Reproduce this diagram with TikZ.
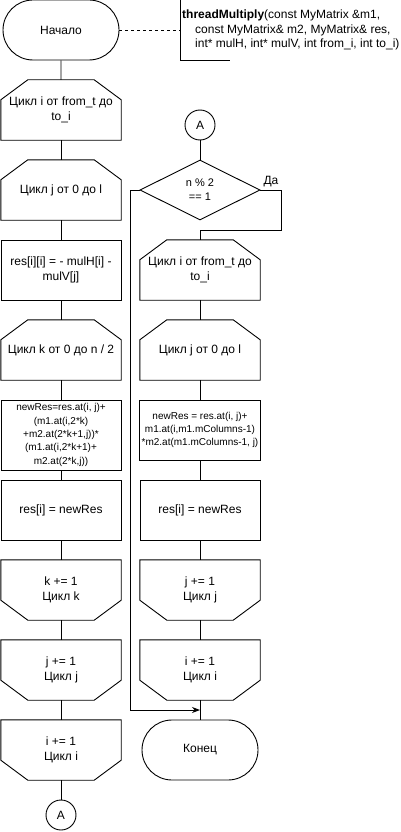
\documentclass[tikz,border=0pt]{standalone}
\usepackage{fontspec}
\setmainfont{Liberation Sans}
\usetikzlibrary{shapes.geometric,shapes.misc,arrows.meta}
\newcommand{\nsz}{\fontsize{12}{14.4}\selectfont}
\newcommand{\ssz}{\fontsize{10}{13.3}\selectfont}
\newcommand{\dsz}{\fontsize{11}{14}\selectfont}
\tikzset{
  x=1pt, y=-1pt,
  shapeline/.style={draw=black, line width=0.9pt, line join=miter},
  base/.style={rectangle, minimum width=120pt, minimum height=60pt, inner sep=2pt, align=center, font=\nsz},
  box/.style={base, shapeline},
  smallbox/.style={base, shapeline, font=\ssz},
  loopbegin/.style={base},
  loopend/.style={base},
  term/.style={rounded rectangle, shapeline, minimum width=120pt, minimum height=60pt, inner sep=2pt, font=\nsz},
  conn/.style={circle, shapeline, minimum size=30pt, inner sep=0pt, font=\nsz},
  decision/.style={diamond, shapeline, aspect=2, minimum width=120pt, minimum height=60pt, inner sep=0pt, align=center, font=\dsz},
  flow/.style={draw=black, line width=0.9pt},
  arrowflow/.style={flow, -{Stealth[length=8pt,width=6pt]}},
}
\begin{document}
\begin{tikzpicture}
\useasboundingbox (0,0) rectangle (401,832);
% left column
\node[term] (start) at (61,30) {Начало};
\node[base, anchor=west, minimum width=0pt, align=left] (note) at (180,30)
  {\textbf{threadMultiply}(const MyMatrix \&m1,\\
   \hspace*{13pt}const MyMatrix\& m2, MyMatrix\& res,\\
   \hspace*{13pt}int* mulH, int* mulV, int from\_i, int to\_i)};
\node[loopbegin] (L1) at (61,110) {Цикл i от from\_t до\\to\_i};
\node[loopbegin] (L2) at (61,190) {Цикл j от 0 до l};
\node[box] (L3) at (61,270) {res[i][i] = - mulH[i] -\\mulV[j]};
\node[loopbegin] (L4) at (61,350) {Цикл k от 0 до n / 2};
\node[smallbox, minimum height=70pt] (L5) at (61,435)
  {newRes=res.at(i, j)+\\(m1.at(i,2*k)\\+m2.at(2*k+1,j))*\\(m1.at(i,2*k+1)+\\m2.at(2*k,j))};
\node[box] (L6) at (61,510) {res[i] = newRes};
\node[loopend] (L7) at (61,590) {k += 1\\Цикл k};
\node[loopend] (L8) at (61,670) {j += 1\\Цикл j};
\node[loopend] (L9) at (61,750) {i += 1\\Цикл i};
\node[conn] (LA) at (61,815) {A};
% right column
\node[conn] (RA) at (200,125) {A};
\node[decision] (D) at (200,190) {n \% 2\\== 1};
\node[font=\nsz, inner sep=0pt] (yes) at (271,182) {Да};
\node[loopbegin] (R1) at (200,270) {Цикл i от from\_t до\\to\_i};
\node[loopbegin] (R2) at (200,350) {Цикл j от 0 до l};
\node[smallbox] (R3) at (200,430) {newRes = res.at(i, j)+\\m1.at(i,m1.mColumns-1)\\*m2.at(m1.mColumns-1, j)};
\node[box] (R4) at (200,510) {res[i] = newRes};
\node[loopend] (R5) at (200,590) {j += 1\\Цикл j};
\node[loopend] (R6) at (200,670) {i += 1\\Цикл i};
\node[term] (end) at (200,750) {Конец};
% loop shapes outlines
\foreach \n in {L1,L2,L4,R1,R2}
  \draw[shapeline] ([xshift=27pt]\n.north west) -- ([xshift=-27pt]\n.north east)
    -- ([yshift=-20pt]\n.north east) -- (\n.south east) -- (\n.south west)
    -- ([yshift=-20pt]\n.north west) -- cycle;
\foreach \n in {L7,L8,L9,R5,R6}
  \draw[shapeline] (\n.north west) -- (\n.north east)
    -- ([yshift=20pt]\n.south east) -- ([xshift=-27pt]\n.south east)
    -- ([xshift=27pt]\n.south west) -- ([yshift=20pt]\n.south west) -- cycle;
% note bracket
\draw[flow] ([xshift=50pt]note.north west) -- (note.north west) -- (note.south west) -- ([xshift=50pt]note.south west);
\draw[flow, dashed] (start.east) -- (note.west);
% left connectors
\draw[flow] (start) -- (L1);
\draw[flow] (L1) -- (L2);
\draw[flow] (L2) -- (L3);
\draw[flow] (L3) -- (L4);
\draw[flow] (L4) -- (L5);
\draw[flow] (L5) -- (L6);
\draw[flow] (L6) -- (L7);
\draw[flow] (L7) -- (L8);
\draw[flow] (L8) -- (L9);
\draw[flow] (L9) -- (LA);
% right connectors
\coordinate (yb) at (281,230);
\coordinate (nb) at (130,710);
\coordinate (merge) at (200,710);
\draw[flow] (RA) -- (D);
\draw[flow] (D.east) -| (yb) -| (R1.north);
\draw[arrowflow] (D.west) -| (nb) -- (merge);
\draw[flow] (R1) -- (R2);
\draw[flow] (R2) -- (R3);
\draw[flow] (R3) -- (R4);
\draw[flow] (R4) -- (R5);
\draw[flow] (R5) -- (R6);
\draw[flow] (R6) -- (end);
\end{tikzpicture}
\end{document}
